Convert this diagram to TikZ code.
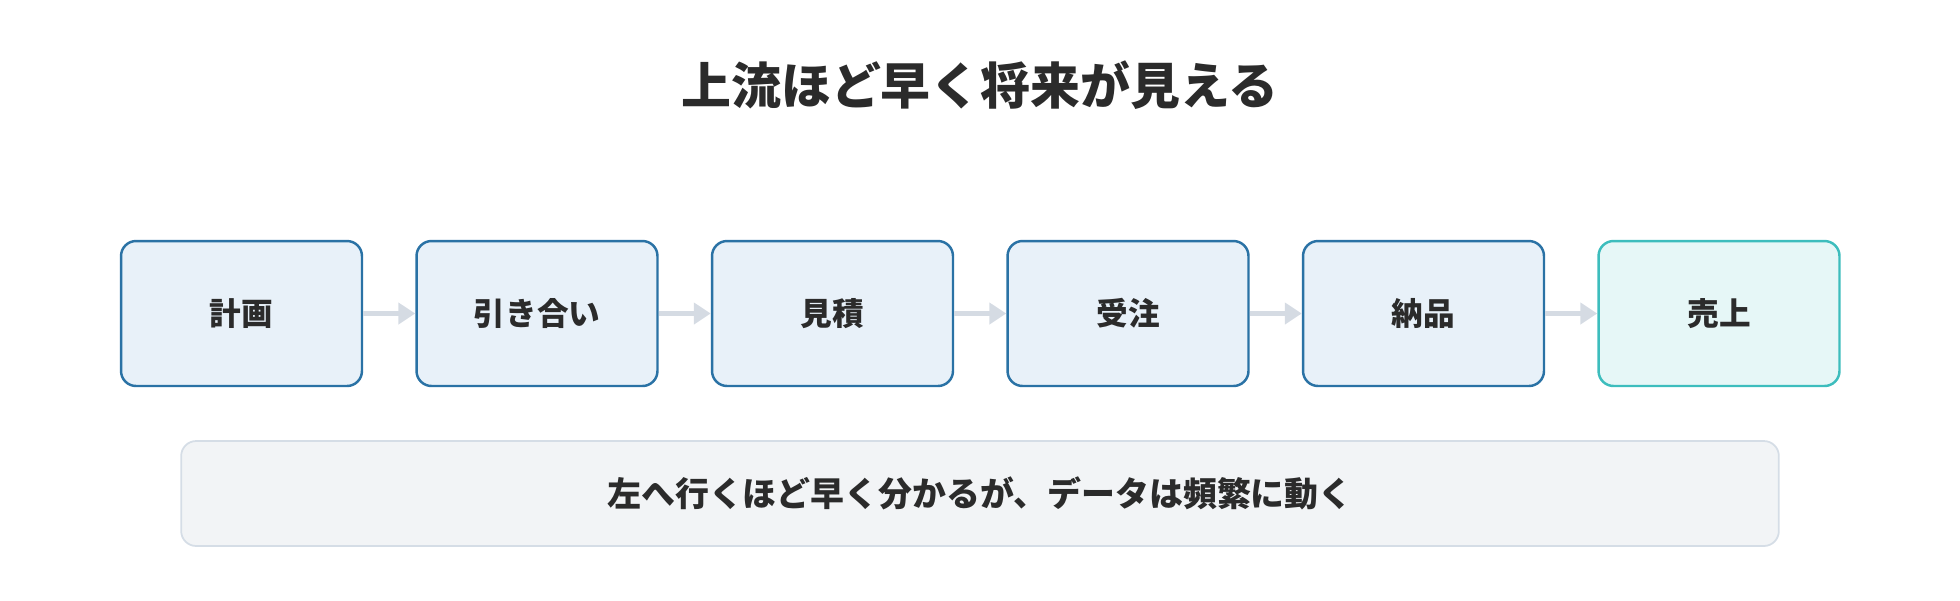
\documentclass[tikz,border=0pt]{standalone}
\usepackage{fontspec}
\setmainfont{Noto Sans CJK JP}
\usepackage{xcolor}
\usetikzlibrary{arrows.meta, positioning}

\definecolor{stepfill}{HTML}{E8F1F9}
\definecolor{stepline}{HTML}{2A72A5}
\definecolor{salesfill}{HTML}{E6F7F7}
\definecolor{salesline}{HTML}{3DBDBD}
\definecolor{notefill}{HTML}{F2F4F6}
\definecolor{noteline}{HTML}{D5DDE6}
\definecolor{flowarrow}{HTML}{D5DBE3}
\definecolor{ink}{HTML}{2B2B2B}

\tikzset{
    stage/.style={draw=stepline, fill=stepfill, line width=1.4pt, rounded corners=0.3cm,
        minimum width=4.82cm, minimum height=2.9cm, text=ink,
        font=\fontsize{18pt}{20pt}\selectfont\bfseries},
    flow/.style={draw=flowarrow, line width=2.8pt, -{Triangle[length=0.34cm, width=0.42cm]}}
}

\begin{document}
\begin{tikzpicture}[x=0.02cm, y=-0.02cm]
                        \useasboundingbox (0, 0) rectangle (1960, 600);
                        \node[text=ink, font=\fontsize{28.4pt}{32pt}\selectfont\bfseries] (title) at (980, 85) {上流ほど早く将来が見える};
                        \node[stage] (plan) at (241.5, 313.5) {計画};
                        \node[stage] (inquiry) at (537, 313.5) {引き合い};
                        \node[stage] (quote) at (832.5, 313.5) {見積};
                        \node[stage] (order) at (1128, 313.5) {受注};
                        \node[stage] (delivery) at (1423.5, 313.5) {納品};
                        \node[stage, draw=salesline, fill=salesfill] (sales) at (1719, 313.5) {売上};
                        \node[draw=noteline, fill=notefill, line width=1pt, rounded corners=0.3cm,
                            minimum width=31.96cm, minimum height=2.1cm, text=ink,
                            font=\fontsize{19.3pt}{22pt}\selectfont\bfseries] (note) at (980, 493.5)
                            {左へ行くほど早く分かるが、データは頻繁に動く};
                        \draw
                        (plan) edge[flow] (inquiry)
                        (inquiry) edge[flow] (quote)
                        (quote) edge[flow] (order)
                        (order) edge[flow] (delivery)
                        (delivery) edge[flow] (sales);
                    \end{tikzpicture}
\end{document}
